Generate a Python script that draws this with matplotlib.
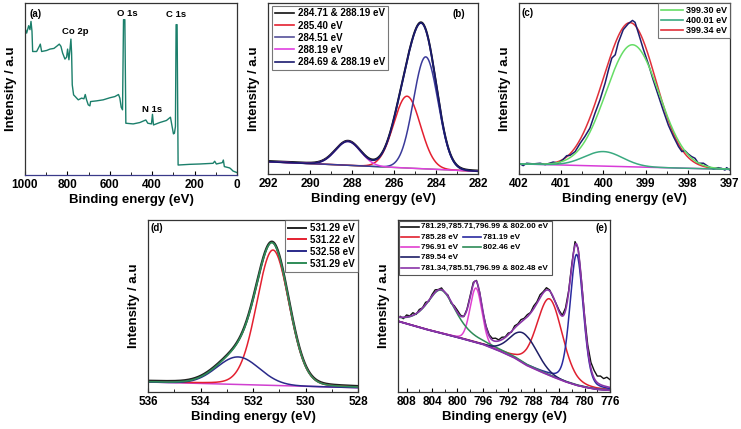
import numpy as np
import matplotlib
matplotlib.use('Agg')
import matplotlib.pyplot as plt
from matplotlib.lines import Line2D
from matplotlib.patches import Rectangle
from matplotlib.ticker import MultipleLocator

plt.rcParams['font.family'] = ['Liberation Sans', 'DejaVu Sans']
plt.rcParams['font.weight'] = 'bold'
plt.rcParams['axes.labelweight'] = 'bold'

# ---------------- (a) survey spectrum ----------------
a_energy = [1000, 992.2, 982.7, 976.5, 971.7, 967.0, 963.9, 945.1, 932.5, 927.8,
            921.5, 898.0, 882.3, 863.4, 850.9, 838.3, 830.5, 822.6, 811.6, 803.8,
            799.1, 792.8, 788.1, 783.4, 780.2, 777.1, 770.8, 763.0, 748.8, 733.1,
            722.1, 715.8, 709.6, 701.7, 693.9, 690.7, 662.5, 631.1, 599.7, 576.1,
            558.9, 552.6, 546.3, 540.0, 535.3, 529.0, 524.3, 489.8, 458.4, 430.1,
            420.7, 403.5, 398.7, 394.0, 364.2, 332.8, 313.9, 306.1, 299.8, 295.1,
            290.4, 287.3, 282.6, 277.8, 222.9, 175.8, 113.0, 105.2, 97.3, 69.1,
            64.4, 59.7, 34.5, 26.7, 18.8, 0.0]
a_intensity = [85.4, 82.5, 86.8, 84.5, 89.3, 83.5, 71.8, 71.8, 74.8, 76.1,
               71.8, 72.4, 73.2, 73.6, 74.8, 76.1, 74.8, 70.9, 67.4, 68.5,
               73.2, 67.0, 72.8, 79.0, 70.9, 52.4, 46.6, 45.6, 43.7, 44.7,
               44.3, 46.8, 43.7, 40.8, 40.2, 42.7, 43.1, 43.7, 44.9, 45.6,
               46.8, 44.7, 39.4, 37.9, 90.3, 90.3, 30.1, 29.7, 30.5, 32.0,
               30.1, 29.7, 35.3, 29.1, 30.5, 31.7, 33.6, 28.2, 23.9, 24.3,
               28.2, 87.4, 87.4, 5.8, 6.2, 6.4, 6.8, 8.0, 6.4, 7.2,
               8.7, 4.9, 4.1, 3.3, 2.3, 1.4]
a_peak_labels = ['Co 2p', 'O 1s', 'N 1s', 'C 1s']
a_peak_pos = [(762, 83.5), (516, 93.8), (400, 37.9), (286, 93.2)]

# ---------------- (b) C 1s ----------------
b_labels = ['284.71 & 288.19 eV', '285.40 eV', '284.51 eV', '288.19 eV', '284.69 & 288.19 eV']
b_centers = [285.38, 284.49, 288.19]      # red, blue, magenta components
b_heights = [42.0, 65.5, 14.0]
b_fwhm = [1.50, 1.38, 1.42]
b_bg_x = [292.0, 282.0]
b_bg_y = [7.2, 1.6]

# ---------------- (c) N 1s ----------------
c_labels = ['399.30 eV', '400.01 eV', '399.34 eV']
c_centers = [399.31, 400.00]
c_heights = [71.4, 8.5]
c_fwhm = [1.48, 1.07]
c_env_centers = [399.36, 400.25]
c_env_heights = [84.0, 4.5]
c_env_fwhm = [1.42, 0.90]
c_bg_x = [402.0, 397.0]
c_bg_y = [5.9, 2.7]
c_raw_x = [402.00, 401.90, 401.82, 401.66, 401.50, 401.38, 401.27, 401.19, 401.07, 400.95,
           400.87, 400.79, 400.67, 400.55, 400.44, 400.32, 400.20, 400.08, 399.96, 399.88,
           399.80, 399.72, 399.65, 399.53, 399.41, 399.31, 399.25, 399.17, 399.05, 398.93,
           398.82, 398.70, 398.58, 398.46, 398.34, 398.22, 398.14, 398.07, 397.99, 397.91,
           397.83, 397.75, 397.63, 397.51, 397.39, 397.28, 397.20, 397.12, 397.08, 397.00]
c_raw_y = [6.3, 4.9, 6.3, 5.9, 6.3, 5.5, 6.3, 7.0, 6.3, 8.6,
           10.7, 10.9, 13.1, 18.0, 21.9, 26.8, 35.5, 43.4, 53.1, 60.9,
           67.8, 69.7, 76.6, 84.4, 87.9, 89.8, 88.7, 82.4, 72.7, 64.0,
           55.0, 46.0, 37.0, 28.5, 21.9, 16.0, 13.1, 13.7, 11.7, 10.2,
           9.2, 6.3, 6.3, 4.3, 2.9, 3.7, 3.3, 2.3, 3.7, 2.3]

# ---------------- (d) O 1s ----------------
d_labels = ['531.29 eV', '531.22 eV', '532.58 eV', '531.29 eV']
d_centers = [531.24, 532.57]
d_heights = [78.7, 16.0]
d_fwhm = [1.46, 1.90]
d_eta = [0.1, 0.0]
d_bg_x = [536.0, 528.0]
d_bg_y = [5.8, 2.5]

# ---------------- (e) Co 2p ----------------
e_labels = ['781.29,785.71,796.99 & 802.00 eV', '785.28 eV', '781.19 eV', '796.91 eV',
            '802.46 eV', '789.54 eV', '781.34,785.51,796.99 & 802.48 eV']
e_centers = [785.50, 781.25, 797.08, 802.55, 789.60]
e_heights = [44.5, 76.0, 31.6, 25.0, 17.5]
e_fwhm = [4.7, 2.47, 2.2, 5.5, 5.0]
e_eta = [0.2, 0.25, 0.1, 0.6, 0.0]
e_bg_x = [809.3, 805.0, 800.2, 796.0, 793.3, 791.0, 789.1, 787.0, 784.9, 783.0, 781.2, 779.5, 778.1, 776.0]
e_bg_y = [41.1, 36.5, 32.0, 27.7, 23.7, 19.8, 15.5, 12.0, 8.7, 6.0, 3.9, 2.5, 1.6, 1.0]
e_raw_resid = [0.5, -0.8, 1.2, 0.3, 1.5, -0.5, 1.0, 0.2, 1.3, -0.6,
               0.8, 1.4, 0.2, 1.0, -0.4, 0.6, -1.0, 0.8, 1.2, 0.5,
               -0.3, 0.4, 0.9, 1.2, 0.6, 0.3, -0.6, 0.5, 0.8, 1.0,
               1.8, 0.6, 1.4, 0.3, 1.0, -0.4, 1.2, 0.6, 1.5, 0.8,
               1.3, 0.4, 1.6, 0.9, 1.8, 0.7, 1.4, 0.6, -0.5, 0.3,
               1.0, 0.4, 1.5, 0.8, 1.0, 2.2, 1.0, 0.5, 1.5, 2.5,
               3.5, 4.5, 3.8, 5.0, 4.2, 5.5, 4.5]


def pv(x, c, h, w, eta=0.0):
    d = (x - c) / w
    return h * ((1 - eta) * np.exp(-4 * np.log(2) * d ** 2) + eta / (1 + 4 * d ** 2))


def line_bg(x, bx, by):
    return np.interp(x, bx[::-1], by[::-1]) if bx[0] > bx[-1] else np.interp(x, bx, by)


W, H = 741, 429
fig = plt.figure(figsize=(W / 100, H / 100), dpi=100)


def make_ax(x0, y0, x1, y1):
    return fig.add_axes([x0 / W, 1 - y1 / H, (x1 - x0) / W, (y1 - y0) / H])


def style(ax, xlim, major, minor):
    ax.set_xlim(*xlim)
    ax.set_ylim(0, 100)
    ax.set_yticks([])
    ax.xaxis.set_major_locator(MultipleLocator(major))
    ax.xaxis.set_minor_locator(MultipleLocator(minor))
    ax.tick_params(axis='x', which='major', direction='in', length=3, width=0.8,
                   labelsize=8.5, pad=3)
    ax.tick_params(axis='x', which='minor', direction='in', length=2, width=0.6)
    for s in ax.spines.values():
        s.set_color('#333333')
        s.set_linewidth(0.9)
    ax.set_xlabel('Binding energy (eV)', fontsize=9.5, labelpad=2)
    ax.set_ylabel('Intensity / a.u', fontsize=9.5, labelpad=6)


# ---- (a)
ax = make_ax(25, 3, 237, 175)
ax.plot(a_energy, a_intensity, color='#1b7f6b', lw=1.0)
style(ax, (1000, 0), 200, 100)
ax.spines['bottom'].set_color('#3a3a8a')
ax.text(0.019, 0.936, '(a)', transform=ax.transAxes, fontsize=7, ha='left', va='center')
for lab, (px, py) in zip(a_peak_labels, a_peak_pos):
    ax.text(px, py, lab, fontsize=6.8, ha='center', va='center')

# ---- (b)
ax = make_ax(268, 3, 478, 174)
xb = np.linspace(292, 282, 600)
bgb = line_bg(xb, b_bg_x, b_bg_y)
red_b = bgb + pv(xb, b_centers[0], b_heights[0], b_fwhm[0])
blue_b = bgb + pv(xb, b_centers[1], b_heights[1], b_fwhm[1])
mag_b = bgb + pv(xb, b_centers[2], b_heights[2], b_fwhm[2])
env_b = bgb + sum(pv(xb, c, h, w) for c, h, w in zip(b_centers, b_heights, b_fwhm))
ax.plot(xb, bgb, color='#5a9a4a', lw=1.0)
ax.plot(xb, env_b + 0.4, color='#111111', lw=1.4)
ax.plot(xb, red_b, color='#e42030', lw=1.1)
ax.plot(xb, blue_b, color='#3a3a9a', lw=1.1)
ax.plot(xb, mag_b, color='#e040e0', lw=1.1)
ax.plot(xb, env_b, color='#1a1a6e', lw=1.3)
style(ax, (292, 282), 2, 1)
hb = [Line2D([], [], color=c, lw=1.2) for c in ['#111111', '#e42030', '#55509a', '#e040e0', '#1a1a6e']]
leg = ax.legend(hb, b_labels, loc='upper left', bbox_to_anchor=(0.018, 0.985), borderaxespad=0,
                fontsize=7, frameon=True, fancybox=False, handlelength=2.0, handletextpad=0.4,
                labelspacing=0.22, borderpad=0.3)
leg.get_frame().set_edgecolor('#555555')
leg.get_frame().set_linewidth(0.8)
ax.text(0.938, 0.936, '(b)', transform=ax.transAxes, fontsize=7, ha='right', va='center')

# ---- (c)
ax = make_ax(519, 3, 730, 174)
xc = np.linspace(402, 397, 600)
bgc = line_bg(xc, c_bg_x, c_bg_y)
g1 = bgc + pv(xc, c_centers[0], c_heights[0], c_fwhm[0])
g2 = bgc + pv(xc, c_centers[1], c_heights[1], c_fwhm[1])
envc = bgc + sum(pv(xc, c, h, w) for c, h, w in zip(c_env_centers, c_env_heights, c_env_fwhm))
ax.plot(xc, bgc, color='#d83cd8', lw=1.1)
ax.plot(xc, envc, color='#e0303a', lw=1.1)
ax.plot(c_raw_x, c_raw_y, color='#1e1e6e', lw=1.1)
ax.plot(xc, g1, color='#66dd66', lw=1.1)
ax.plot(xc, g2, color='#3aaa80', lw=1.1)
style(ax, (402, 397), 1, 0.5)
hc = [Line2D([], [], color=c, lw=1.2) for c in ['#66dd66', '#3aaa80', '#e0303a']]
leg = ax.legend(hc, c_labels, loc='upper right', bbox_to_anchor=(1.0, 1.0), borderaxespad=0,
                fontsize=6.5, frameon=True, fancybox=False, handlelength=2.4, handletextpad=0.4,
                labelspacing=0.15, borderpad=0.3)
leg.get_frame().set_edgecolor('#555555')
leg.get_frame().set_linewidth(0.8)
ax.text(0.012, 0.94, '(c)', transform=ax.transAxes, fontsize=7, ha='left', va='center')

# ---- (d)
ax = make_ax(148, 220, 358, 392)
xd = np.linspace(536, 528, 600)
bgd = line_bg(xd, d_bg_x, d_bg_y)
red_d = bgd + pv(xd, d_centers[0], d_heights[0], d_fwhm[0], d_eta[0])
nav_d = bgd + pv(xd, d_centers[1], d_heights[1], d_fwhm[1], d_eta[1])
env_d = bgd + sum(pv(xd, c, h, w, e) for c, h, w, e in zip(d_centers, d_heights, d_fwhm, d_eta))
ax.plot(xd, bgd, color='#d040d0', lw=1.1)
ax.plot(xd, env_d + 0.5, color='#222222', lw=1.8)
ax.plot(xd, red_d, color='#e42030', lw=1.1)
ax.plot(xd, nav_d, color='#2a2a8a', lw=1.1)
ax.plot(xd, env_d, color='#2e8b57', lw=1.2)
style(ax, (536, 528), 2, 1)
hd = [Line2D([], [], color=c, lw=1.4) for c in ['#222222', '#e42030', '#2a2a8a', '#2e8b57']]
leg = ax.legend(hd, d_labels, loc='upper right', bbox_to_anchor=(1.0, 1.0), borderaxespad=0,
                fontsize=7, frameon=True, fancybox=False, handlelength=1.9, handletextpad=0.4,
                labelspacing=0.2, borderpad=0.3)
leg.get_frame().set_edgecolor('#555555')
leg.get_frame().set_linewidth(0.8)
ax.text(0.012, 0.953, '(d)', transform=ax.transAxes, fontsize=7, ha='left', va='center')

# ---- (e)
ax = make_ax(398.3, 220, 610, 392)
xe = np.linspace(809.3, 776, 800)
bge = line_bg(xe, e_bg_x, e_bg_y)
comps = [pv(xe, c, h, w, e) for c, h, w, e in zip(e_centers, e_heights, e_fwhm, e_eta)]
env_e = bge + sum(comps)
xr = np.arange(809.0, 775.9, -0.5)
bgr = line_bg(xr, e_bg_x, e_bg_y)
raw_e = bgr + sum(pv(xr, c, h, w, e) for c, h, w, e in zip(e_centers, e_heights, e_fwhm, e_eta)) + np.array(e_raw_resid)
e_cols = ['#e02030', '#2a2aa0', '#e040d0', '#2e8b57', '#1e1e66']
ax.plot(xr, raw_e, color='#111111', lw=1.0)
for comp, col in zip(comps, e_cols):
    ax.plot(xe, bge + comp, color=col, lw=1.1)
ax.plot(e_bg_x, e_bg_y, color='#8a35a8', lw=1.3)
ax.plot(xe, env_e, color='#8a35a8', lw=1.2)
style(ax, (809.3, 776), 4, 2)
ax.text(0.99, 0.953, '(e)', transform=ax.transAxes, fontsize=7, ha='right', va='center')

# custom legend box for (e)
ax.add_patch(Rectangle((0.002, 0.68), 0.723, 0.314, transform=ax.transAxes, facecolor='white',
                       edgecolor='#555555', lw=0.8, zorder=5))
rows = [0.962, 0.899, 0.842, 0.783, 0.720]
entries = [(0, 0, '#111111', e_labels[0]), (1, 0, '#e02030', e_labels[1]), (1, 1, '#2a2aa0', e_labels[2]),
           (2, 0, '#e040d0', e_labels[3]), (2, 1, '#2e8b57', e_labels[4]), (3, 0, '#1e1e66', e_labels[5]),
           (4, 0, '#8a35a8', e_labels[6])]
col_x = [(0.013, 0.099, 0.107), (0.304, 0.39, 0.401)]
for r, cidx, col, lab in entries:
    x0, x1, xt = col_x[cidx]
    ax.add_line(Line2D([x0, x1], [rows[r], rows[r]], color=col, lw=1.2, transform=ax.transAxes, zorder=6))
    ax.text(xt, rows[r], lab, transform=ax.transAxes, fontsize=5.9, ha='left', va='center', zorder=6)

fig.savefig('out.png', dpi=100)
